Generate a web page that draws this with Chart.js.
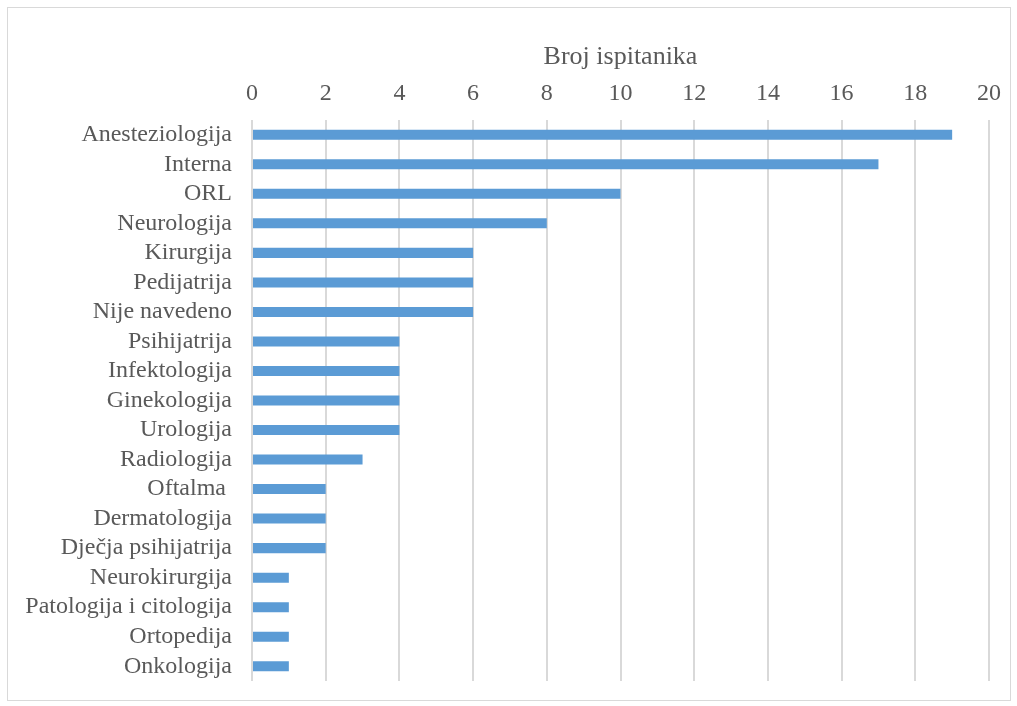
<!DOCTYPE html>
<html>
<head>
<meta charset="utf-8">
<script src="https://cdn.jsdelivr.net/npm/chart.js@4/dist/chart.umd.min.js"></script>
<style>
  html, body { margin: 0; padding: 0; background: #fff; }
  #wrap { position: relative; width: 1017px; height: 706px; }
  #frame { position: absolute; left: 7px; top: 7px; width: 1002px; height: 692px; border: 1px solid #d9d9d9; pointer-events: none; }
  canvas { position: absolute; left: 0; top: 0; }
</style>
</head>
<body>
<div id="wrap">
  <canvas id="deptChart" width="1017" height="706"></canvas>
  <div id="frame"></div>
</div>
<script>
// Respondents per department
const departments = ['Anesteziologija', 'Interna', 'ORL', 'Neurologija', 'Kirurgija', 'Pedijatrija',
  'Nije navedeno', 'Psihijatrija', 'Infektologija', 'Ginekologija', 'Urologija', 'Radiologija',
  'Oftalma ', 'Dermatologija', 'Dječja psihijatrija', 'Neurokirurgija', 'Patologija i citologija',
  'Ortopedija', 'Onkologija'];
const respondents = [19, 17, 10, 8, 6, 6, 6, 4, 4, 4, 4, 3, 2, 2, 2, 1, 1, 1, 1];
const xTicks = [0, 2, 4, 6, 8, 10, 12, 14, 16, 18, 20];

const textColor = '#595959';
const family = '"Liberation Serif", "Times New Roman", serif';

const ctx = document.getElementById('deptChart');
new Chart(ctx, {
  type: 'bar',
  data: {
    labels: departments,
    datasets: [{
      label: 'Broj ispitanika',
      data: respondents,
      backgroundColor: '#5b9bd5',
      borderWidth: 0,
      barPercentage: 0.68,
      categoryPercentage: 0.5
    }]
  },
  options: {
    indexAxis: 'y',
    responsive: false,
    animation: false,
    layout: { padding: { left: 0, right: 28, top: 0, bottom: 25 } },
    plugins: {
      legend: { display: false },
      tooltip: { enabled: false }
    },
    scales: {
      x: {
        position: 'top',
        min: 0,
        max: 20,
        afterBuildTicks: axis => { axis.ticks = xTicks.map(v => ({ value: v })); },
        afterFit: axis => { axis.height = 120; axis.paddingLeft = 0; axis.paddingRight = 0; },
        ticks: { color: textColor, font: { family: family, size: 24 }, padding: 12 },
        grid: { color: '#d9d9d9', lineWidth: 2, drawTicks: false },
        border: { display: false },
        title: {
          display: true,
          text: 'Broj ispitanika',
          color: textColor,
          font: { family: family, size: 26 },
          padding: { top: 42, bottom: 0 }
        }
      },
      y: {
        afterFit: axis => { axis.width = 252; axis.paddingTop = 0; axis.paddingBottom = 0; },
        ticks: { color: textColor, font: { family: family, size: 24 }, padding: 12, autoSkip: false },
        grid: { display: false },
        border: { display: false }
      }
    }
  }
});
</script>
</body>
</html>
